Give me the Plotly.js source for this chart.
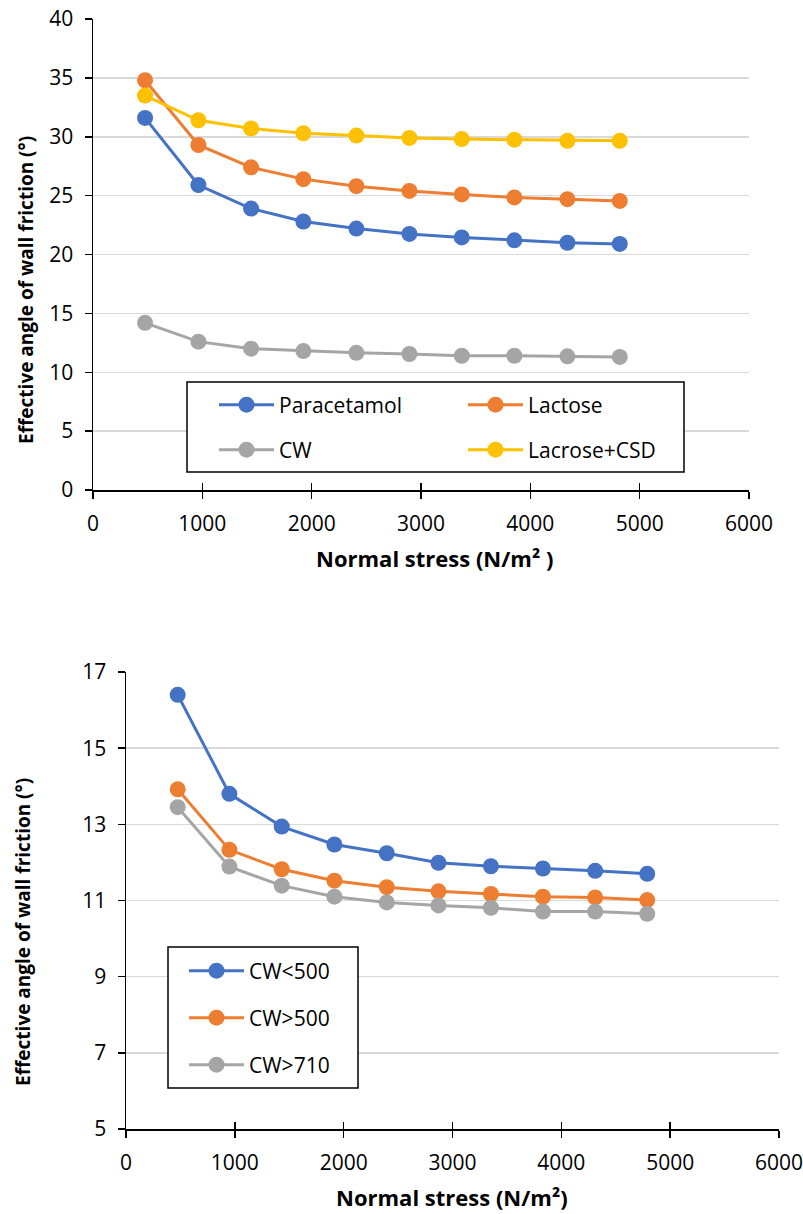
<!DOCTYPE html>
<html>
<head>
<meta charset="utf-8">
<script src="https://cdn.plot.ly/plotly-3.0.1.min.js"></script>
<style>html,body{margin:0;padding:0;background:#fff;}#chart{width:803px;height:1214px;}</style>
</head>
<body>
<div id="chart"></div>
<script>
// ---- data: top chart ----
var stressTop = [476, 964, 1446, 1924, 2409, 2894, 3373, 3854, 4339, 4818];
var paracetamol = [31.6, 25.9, 23.9, 22.8, 22.2, 21.75, 21.45, 21.2, 21.0, 20.9];
var lactose = [34.8, 29.3, 27.4, 26.4, 25.8, 25.4, 25.1, 24.85, 24.7, 24.55];
var cwTop = [14.2, 12.6, 12.0, 11.8, 11.65, 11.55, 11.4, 11.4, 11.35, 11.3];
var lactoseCSD = [33.5, 31.4, 30.7, 30.3, 30.1, 29.9, 29.8, 29.75, 29.65, 29.65];
var topNames = ['Paracetamol', 'Lactose', 'CW', 'Lacrose+CSD'];
var topTicksY = [0, 5, 10, 15, 20, 25, 30, 35, 40];

// ---- data: bottom chart ----
var stressBottom = [475, 950, 1431, 1915, 2396, 2871, 3353, 3831, 4311, 4789];
var cwLt500 = [16.40, 13.80, 12.94, 12.47, 12.24, 11.99, 11.90, 11.84, 11.78, 11.70];
var cwGt500 = [13.92, 12.33, 11.82, 11.52, 11.35, 11.24, 11.17, 11.10, 11.08, 11.01];
var cwGt710 = [13.45, 11.89, 11.39, 11.10, 10.95, 10.87, 10.81, 10.71, 10.71, 10.65];
var bottomNames = ['CW<500', 'CW>500', 'CW>710'];
var xTicks = [0, 1000, 2000, 3000, 4000, 5000, 6000];

var C = {blue: '#4472C4', orange: '#ED7D31', gray: '#A5A5A5', yellow: '#FFC000'};
var FONT = 'Open Sans, Liberation Sans, sans-serif';

function tr(x, y, name, color, xa, ya, leg) {
  return {
    type: 'scatter', mode: 'lines+markers', x: x, y: y, name: name,
    xaxis: xa, yaxis: ya, legend: leg,
    line: {color: color, width: 3},
    marker: {color: color, size: 16},
    hoverinfo: 'x+y+name'
  };
}

var data = [
  tr(stressTop, paracetamol, topNames[0], C.blue, 'x', 'y', 'legend'),
  tr(stressTop, lactose, topNames[1], C.orange, 'x', 'y', 'legend'),
  tr(stressTop, cwTop, topNames[2], C.gray, 'x', 'y', 'legend2'),
  tr(stressTop, lactoseCSD, topNames[3], C.yellow, 'x', 'y', 'legend2'),
  tr(stressBottom, cwLt500, bottomNames[0], C.blue, 'x2', 'y2', 'legend3'),
  tr(stressBottom, cwGt500, bottomNames[1], C.orange, 'x2', 'y2', 'legend4'),
  tr(stressBottom, cwGt710, bottomNames[2], C.gray, 'x2', 'y2', 'legend5')
];

var W = 803, H = 1214;
function px(v) { return v / W; }
function py(v) { return (H - v) / H; }

var tickFont = {family: FONT, size: 21, color: '#000'};
var legFont = {family: FONT, size: 21, color: '#000'};
var xTitleFont = {family: FONT, size: 22, color: '#000', weight: 'bold'};
var yTitleFont = {family: FONT, size: 19, color: '#000', weight: 'bold'};

function xaxisBase(dom, anchor) {
  return {
    domain: dom, anchor: anchor, range: [0, 6000], tickvals: xTicks,
    showgrid: false, zeroline: false, showline: true, linecolor: '#000', linewidth: 1.5,
    ticks: 'outside', ticklen: 7, tickwidth: 1.5, tickcolor: '#000',
    tickfont: tickFont, ticklabelstandoff: 7, ticklabeloverflow: 'allow', fixedrange: true
  };
}
function xaxisInner(over, anchor) {
  return {
    overlaying: over, anchor: anchor, range: [0, 6000], tickvals: xTicks,
    showgrid: false, zeroline: false, showline: false, showticklabels: false,
    ticks: 'inside', ticklen: 7, tickwidth: 1.5, tickcolor: '#000', fixedrange: true
  };
}

function legendAt(xp, yp, ew) {
  return {
    x: px(xp), y: py(yp), xanchor: 'left', yanchor: 'middle', orientation: 'h',
    bgcolor: 'rgba(0,0,0,0)', borderwidth: 0, font: legFont,
    itemwidth: 55, entrywidth: ew, itemclick: false, itemdoubleclick: false
  };
}

var layout = {
  width: W, height: H,
  margin: {l: 0, r: 0, t: 0, b: 0},
  paper_bgcolor: '#fff', plot_bgcolor: '#fff',
  font: {family: FONT, color: '#000'},
  xaxis: xaxisBase([px(93), px(749)], 'y'),
  yaxis: {
    domain: [py(490), py(19)], anchor: 'x', range: [0, 40], tickvals: topTicksY,
    showgrid: true, gridcolor: '#d9d9d9', gridwidth: 1.5, zeroline: false,
    showline: true, linecolor: '#000', linewidth: 1.5,
    ticks: 'outside', ticklen: 7, tickwidth: 1.5, tickcolor: '#000',
    tickfont: tickFont, ticklabelstandoff: 7, fixedrange: true
  },
  xaxis3: xaxisInner('x', 'y'),
  xaxis2: xaxisBase([px(126), px(779)], 'y2'),
  yaxis2: {
    domain: [py(1129), py(672)], anchor: 'x2', range: [5, 17], dtick: 2, tick0: 5,
    showgrid: true, gridcolor: '#d9d9d9', gridwidth: 1.5, zeroline: false,
    showline: true, linecolor: '#000', linewidth: 1.5,
    ticks: 'outside', ticklen: 7, tickwidth: 1.5, tickcolor: '#000',
    tickfont: tickFont, ticklabelstandoff: 7, fixedrange: true
  },
  xaxis4: xaxisInner('x2', 'y2'),
  showlegend: true,
  legend: legendAt(214, 405, 179),
  legend2: legendAt(214, 450, 179),
  legend3: legendAt(184, 971, 100),
  legend4: legendAt(184, 1018, 100),
  legend5: legendAt(184, 1065, 100),
  shapes: [
    {type: 'rect', xref: 'paper', yref: 'paper', x0: px(187), x1: px(684), y0: py(472), y1: py(382),
     line: {color: '#000', width: 1.5}, fillcolor: '#fff', layer: 'above'},
    {type: 'rect', xref: 'paper', yref: 'paper', x0: px(168), x1: px(358), y0: py(1088), y1: py(947),
     line: {color: '#000', width: 1.5}, fillcolor: '#fff', layer: 'above'}
  ],
  annotations: [
    {text: 'Normal stress (N/m² )', xref: 'paper', yref: 'paper', x: px(434), y: py(558),
     xanchor: 'center', yanchor: 'middle', showarrow: false, font: xTitleFont},
    {text: 'Effective angle of wall friction (°)', xref: 'paper', yref: 'paper', x: px(26), y: py(290),
     xanchor: 'center', yanchor: 'middle', textangle: -90, showarrow: false, font: yTitleFont},
    {text: 'Normal stress (N/m²)', xref: 'paper', yref: 'paper', x: px(452), y: py(1197),
     xanchor: 'center', yanchor: 'middle', showarrow: false, font: xTitleFont},
    {text: 'Effective angle of wall friction (°)', xref: 'paper', yref: 'paper', x: px(23), y: py(932),
     xanchor: 'center', yanchor: 'middle', textangle: -90, showarrow: false, font: yTitleFont}
  ]
};

// empty helper traces so the overlay tick axes (inner half of crossing ticks) are drawn
data.push({type: 'scatter', x: [], y: [], xaxis: 'x3', yaxis: 'y', showlegend: false, hoverinfo: 'skip'});
data.push({type: 'scatter', x: [], y: [], xaxis: 'x4', yaxis: 'y2', showlegend: false, hoverinfo: 'skip'});

Plotly.newPlot('chart', data, layout, {displayModeBar: false, staticPlot: true});
</script>
</body>
</html>
